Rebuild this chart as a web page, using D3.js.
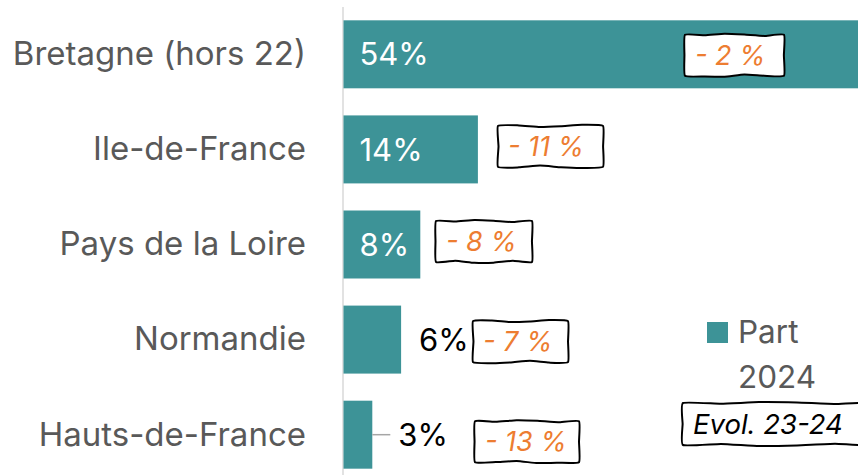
<!DOCTYPE html>
<html>
<head>
<meta charset="utf-8">
<script src="https://cdn.jsdelivr.net/npm/d3@7"></script>
<style>
  html, body { margin: 0; padding: 0; background: #fff; overflow: hidden; }
  svg { display: block; }
  text { font-family: Inter, "Liberation Sans", sans-serif; }
</style>
</head>
<body>
<script>
var regions = ['Bretagne (hors 22)', 'Ile-de-France', 'Pays de la Loire', 'Normandie', 'Hauts-de-France'];
var part2024 = [54, 14, 8, 6, 3];
var evol2324 = [-2, -11, -8, -7, -13];

var width = 858;
var height = 475;
var teal = '#3d9397';
var orange = '#ed7d31';
var grey = '#595959';

// hand placed annotation boxes (left edge, offset from bar centre)
var boxLeft = [685, 498, 436, 473, 475];
var boxShift = [1, -3, -3, 2, 7];
var boxWidth = [99, 105, 96, 95, 104];

var svg = d3.select('body').append('svg')
  .attr('width', width)
  .attr('height', height);

var x = d3.scaleLinear()
  .domain([0, 10])
  .range([343.5, 439.5]);

var y = d3.scaleBand()
  .domain(regions)
  .range([7, 482])
  .paddingInner(0.285)
  .paddingOuter(0.14);

var wobblyBox = function(x0, y0, w, h, seed) {
  var pts = [];
  var n = 5;
  var i, t;
  for(i = 0; i < n; i++) {
    t = i / n;
    pts.push([x0 + w * t, y0 + (i === 0 ? 0 : Math.sin(seed + i * 1.7) * 1.1)]);
  }
  for(i = 0; i < 2; i++) {
    t = i / 2;
    pts.push([x0 + w + (i === 0 ? 0 : Math.sin(seed + i * 2.3) * 0.8), y0 + h * t]);
  }
  for(i = 0; i < n; i++) {
    t = i / n;
    pts.push([x0 + w - w * t, y0 + h + (i === 0 ? 0 : Math.sin(seed * 1.3 + i * 1.9) * 1.3)]);
  }
  for(i = 0; i < 2; i++) {
    t = i / 2;
    pts.push([x0 + (i === 0 ? 0 : Math.sin(seed + i * 2.9) * 0.8), y0 + h - h * t]);
  }
  return d3.line().curve(d3.curveCardinalClosed.tension(0.6))(pts);
};

// axis line
svg.append('line')
  .attr('x1', x(0) - 0.5)
  .attr('x2', x(0) - 0.5)
  .attr('y1', 7)
  .attr('y2', height)
  .style('stroke', '#d9d9d9')
  .style('stroke-width', 1.5);

// bars
svg.selectAll('rect.bar')
  .data(part2024)
  .enter().append('rect')
  .attr('class', 'bar')
  .attr('x', x(0))
  .attr('y', function(d, i) { return y(regions[i]); })
  .attr('width', function(d) { return x(d) - x(0); })
  .attr('height', y.bandwidth())
  .style('fill', teal);

// category labels
svg.selectAll('text.cat')
  .data(regions)
  .enter().append('text')
  .attr('class', 'cat')
  .attr('x', 306)
  .attr('y', function(d) { return y(d) + y.bandwidth() / 2; })
  .attr('dy', '0.33em')
  .attr('text-anchor', 'end')
  .style('font-size', '33px')
  .style('fill', grey)
  .text(function(d) { return d; });

// value labels
var inside = function(d) { return d >= 8; };
svg.selectAll('text.val')
  .data(part2024)
  .enter().append('text')
  .attr('class', 'val')
  .attr('x', function(d, i) {
    if(inside(d)) { return x(0) + 16; }
    return i === 4 ? x(d) + 26 : x(d) + 18;
  })
  .attr('y', function(d, i) { return y(regions[i]) + y.bandwidth() / 2; })
  .attr('dy', '0.36em')
  .style('font-size', '31px')
  .style('fill', function(d) { return inside(d) ? '#fff' : '#000'; })
  .text(function(d) { return d + '%'; });

// leader line for the moved 3% label
svg.append('line')
  .attr('x1', x(part2024[4]))
  .attr('x2', x(part2024[4]) + 18)
  .attr('y1', y(regions[4]) + y.bandwidth() / 2)
  .attr('y2', y(regions[4]) + y.bandwidth() / 2)
  .style('stroke', '#a6a6a6')
  .style('stroke-width', 1.5);

// evolution boxes
var boxH = 41;
evol2324.forEach(function(v, i) {
  var cy = y(regions[i]) + y.bandwidth() / 2 + boxShift[i];
  var g = svg.append('g');
  g.append('path')
    .attr('d', wobblyBox(boxLeft[i], cy - boxH / 2, boxWidth[i], boxH, i * 3.1 + 1))
    .style('fill', '#fff')
    .style('stroke', '#000')
    .style('stroke-width', 2);
  g.append('text')
    .attr('x', boxLeft[i] + 10)
    .attr('y', cy)
    .attr('dy', '0.36em')
    .style('font-size', '27px')
    .style('font-style', 'italic')
    .style('fill', orange)
    .text('- ' + Math.abs(v) + ' %');
});

// legend
var legend = svg.append('g');
legend.append('rect')
  .attr('x', 707)
  .attr('y', 322)
  .attr('width', 21)
  .attr('height', 21)
  .style('fill', teal);
legend.append('text')
  .attr('x', 738)
  .attr('y', 343)
  .style('font-size', '31.5px')
  .style('fill', grey)
  .text('Part');
legend.append('text')
  .attr('x', 738)
  .attr('y', 388)
  .style('font-size', '31.5px')
  .style('fill', grey)
  .text('2024');
legend.append('path')
  .attr('d', wobblyBox(683, 403, 190, 42, 7))
  .style('fill', '#fff')
  .style('stroke', '#000')
  .style('stroke-width', 2);
legend.append('text')
  .attr('x', 693)
  .attr('y', 424)
  .attr('dy', '0.36em')
  .style('font-size', '27.5px')
  .style('font-style', 'italic')
  .style('fill', '#000')
  .text('Evol. 23-24');
</script>
</body>
</html>
